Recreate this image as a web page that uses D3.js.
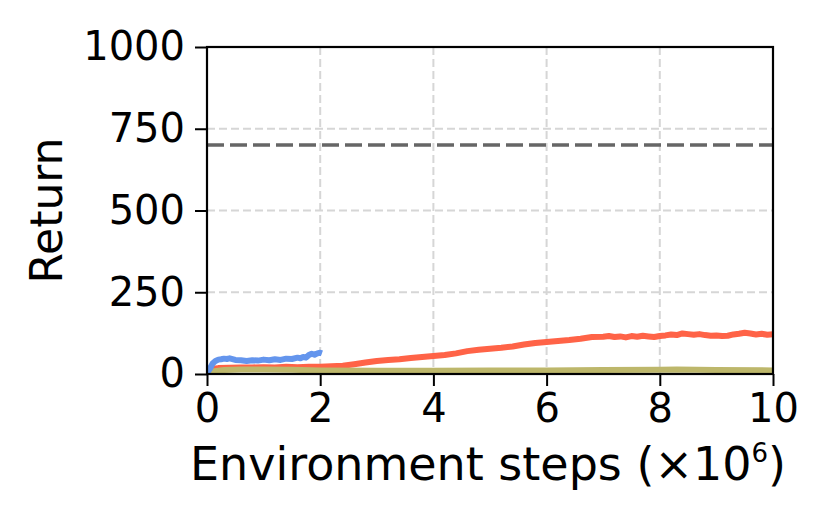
<!DOCTYPE html>
<html>
<head>
<meta charset="utf-8">
<script src="https://cdn.jsdelivr.net/npm/d3@7"></script>
<style>
body { margin: 0; background: #fff; }
text { font-family: "DejaVu Sans", sans-serif; fill: #000; }
</style>
</head>
<body>
<svg id="chart" width="830" height="519"></svg>
<script>
// steps in millions, return values
var blueX = [0, 0.05, 0.1, 0.15, 0.2, 0.25, 0.3, 0.35, 0.4, 0.5, 0.6, 0.7, 0.8, 0.9, 1.0, 1.1, 1.2, 1.3, 1.4, 1.5, 1.6, 1.65, 1.7, 1.75, 1.8, 1.85, 1.9, 1.95, 2.0, 2.03];
var blueY = [3, 16, 32, 40, 44, 45, 47, 46, 48, 43, 42, 40, 42, 41, 44, 42, 45, 43, 47, 46, 50, 48, 52, 50, 58, 62, 59, 63, 65, 63];

var redX = [0.05, 0.1, 0.2, 0.4, 0.6, 0.8, 1.0, 1.2, 1.4, 1.6, 1.8, 2.0, 2.2, 2.4, 2.6, 2.8, 3.0, 3.2, 3.4, 3.6, 3.8, 4.0, 4.2, 4.4, 4.6, 4.8, 5.0, 5.2, 5.4, 5.6, 5.8, 6.0, 6.2, 6.4, 6.6, 6.8, 7.0, 7.1, 7.2, 7.3, 7.4, 7.5, 7.6, 7.7, 7.8, 7.9, 8.0, 8.1, 8.2, 8.3, 8.4, 8.5, 8.6, 8.7, 8.8, 8.9, 9.0, 9.1, 9.2, 9.3, 9.4, 9.5, 9.6, 9.7, 9.8, 9.9, 10.0];
var redY = [12, 16, 18, 19, 20, 20, 21, 20, 22, 21, 22, 22, 24, 25, 30, 35, 40, 43, 45, 49, 52, 55, 58, 63, 70, 74, 77, 80, 84, 90, 95, 98, 101, 104, 108, 113, 114, 116, 113, 115, 112, 116, 114, 117, 115, 113, 116, 118, 121, 119, 124, 122, 120, 122, 119, 117, 118, 116, 117, 121, 123, 126, 124, 121, 123, 120, 122];

var oliveX = [0, 0.1, 0.3, 0.6, 1.0, 1.5, 2.0, 3.0, 4.0, 5.0, 6.0, 7.0, 8.0, 8.3, 9.0, 10.0];
var oliveY = [3, 8, 12, 14, 14, 13, 11, 10, 10, 11, 11, 12, 13, 14, 12, 11];

var bandHalf = { blue: 3, red: 7, olive: 5 };
var referenceReturn = 700;

var xTicks = [0, 2, 4, 6, 8, 10];
var yTicks = [0, 250, 500, 750, 1000];

var svg = d3.select('#chart');
var m = { left: 207, top: 47, right: 773, bottom: 374 };

var x = d3.scaleLinear().domain([0, 10]).range([m.left, m.right]);
var y = d3.scaleLinear().domain([0, 1000]).range([m.bottom, m.top]);

svg.append('clipPath').attr('id', 'clip')
	.append('rect')
	.attr('x', m.left).attr('y', m.top)
	.attr('width', m.right - m.left).attr('height', m.bottom - m.top);

// grid
var grid = svg.append('g');
grid.selectAll('.gx')
	.data(xTicks.slice(1, -1))
	.enter().append('line')
	.attr('x1', function(d) {return x(d);})
	.attr('x2', function(d) {return x(d);})
	.attr('y1', m.top).attr('y2', m.bottom)
	.style('stroke', '#d6d6d6').style('stroke-width', 2).style('stroke-dasharray', '8,4');
grid.selectAll('.gy')
	.data(yTicks.slice(1, -1))
	.enter().append('line')
	.attr('y1', function(d) {return y(d);})
	.attr('y2', function(d) {return y(d);})
	.attr('x1', m.left).attr('x2', m.right)
	.style('stroke', '#d6d6d6').style('stroke-width', 2).style('stroke-dasharray', '8,4');

// reference line
svg.append('line')
	.attr('x1', m.left).attr('x2', m.right)
	.attr('y1', y(referenceReturn)).attr('y2', y(referenceReturn))
	.style('stroke', '#666').style('stroke-width', 3.5).style('stroke-dasharray', '17,6');

function series(xs, ys, half, color, bandOpacity) {
	var pts = xs.map(function(d, i) {return {x: d, y: ys[i]};});
	var g = svg.append('g').attr('clip-path', 'url(#clip)');
	g.append('path')
		.datum(pts)
		.attr('d', d3.area()
			.x(function(d) {return x(d.x);})
			.y0(function(d) {return y(d.y - half);})
			.y1(function(d) {return y(d.y + half);}))
		.style('fill', color).style('opacity', bandOpacity);
	g.append('path')
		.datum(pts)
		.attr('d', d3.line()
			.x(function(d) {return x(d.x);})
			.y(function(d) {return y(d.y);}))
		.style('fill', 'none').style('stroke', color)
		.style('stroke-width', 6).style('stroke-linejoin', 'round');
}

series(redX, redY, bandHalf.red, '#ff6347', 0.2);
series(oliveX, oliveY, bandHalf.olive, '#bdb76b', 0.6);
series(blueX, blueY, bandHalf.blue, '#6495ed', 0.2);

// axes
var xAxis = svg.append('g').attr('transform', 'translate(0,' + m.bottom + ')')
	.call(d3.axisBottom(x).tickValues(xTicks).tickFormat(d3.format('d')).tickSize(12).tickPadding(8));
var yAxis = svg.append('g').attr('transform', 'translate(' + m.left + ',0)')
	.call(d3.axisLeft(y).tickValues(yTicks).tickFormat(d3.format('d')).tickSize(12).tickPadding(10));
[xAxis, yAxis].forEach(function(a) {
	a.select('.domain').remove();
	a.selectAll('.tick line').style('stroke', '#000').style('stroke-width', 2);
	a.selectAll('.tick text').style('font-size', '40px').style('font-family', '"DejaVu Sans", sans-serif');
});

// frame
svg.append('rect')
	.attr('x', m.left).attr('y', m.top)
	.attr('width', m.right - m.left).attr('height', m.bottom - m.top)
	.style('fill', 'none').style('stroke', '#000').style('stroke-width', 2.2);

// labels
var xl = svg.append('text')
	.attr('x', 488).attr('y', 480)
	.attr('text-anchor', 'middle')
	.style('font-size', '46px');
xl.append('tspan').text('Environment steps (×10');
xl.append('tspan').text('6').attr('dy', -18).style('font-size', '26px');
xl.append('tspan').text(')').attr('dy', 18);

svg.append('text')
	.attr('transform', 'translate(62,' + ((m.top + m.bottom) / 2) + ') rotate(-90)')
	.attr('text-anchor', 'middle')
	.style('font-size', '44px')
	.text('Return');
</script>
</body>
</html>
